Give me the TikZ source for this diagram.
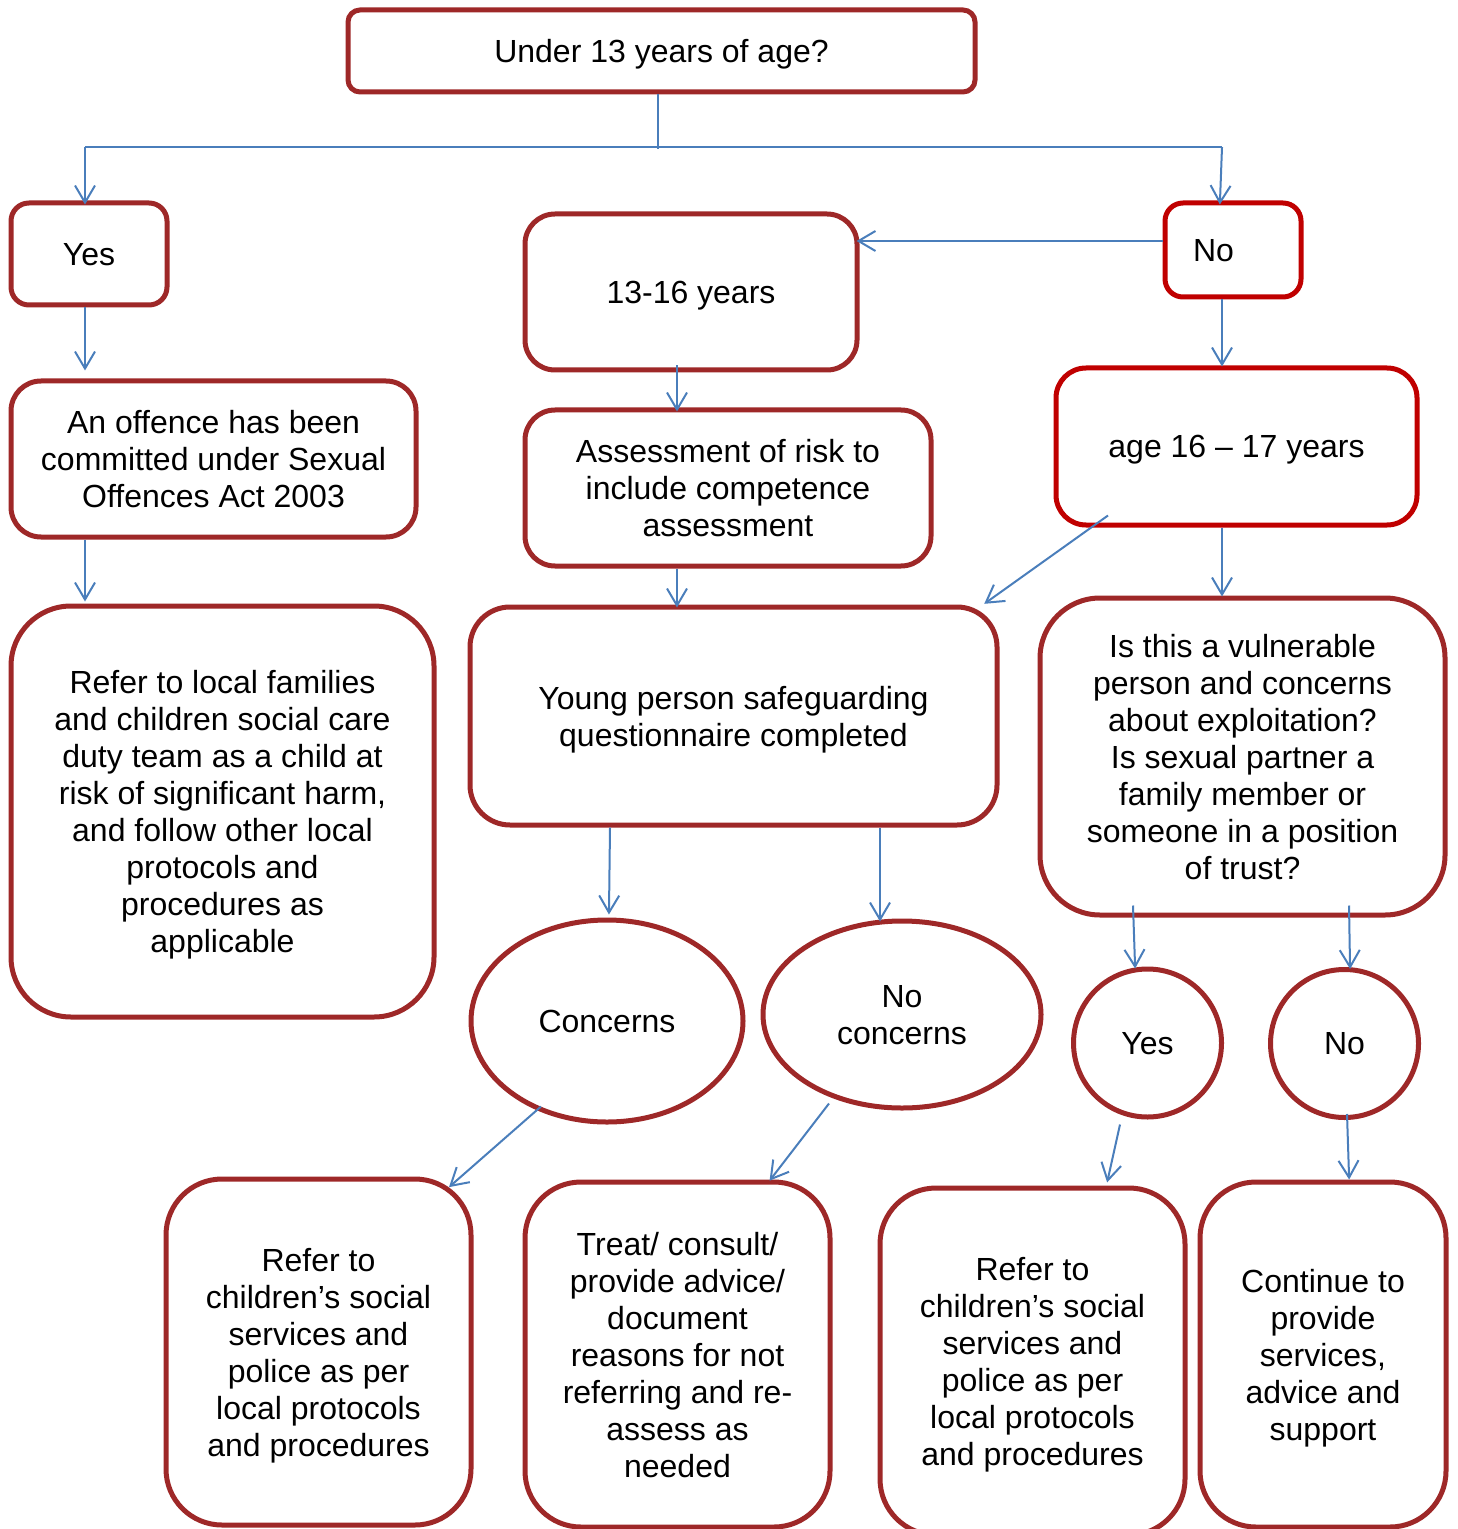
\documentclass[tikz,border=0pt]{standalone}
\usepackage{fontspec}
\setmainfont{Liberation Sans}
\usetikzlibrary{arrows.meta,calc,shapes.geometric}
\definecolor{dred}{RGB}{158,40,40}
\definecolor{bred}{RGB}{192,0,0}
\definecolor{cblue}{RGB}{74,126,187}
\begin{document}
\begin{tikzpicture}[x=0.5pt,y=-0.5pt,
  font=\fontsize{16}{18.5}\selectfont,
  box/.style={draw=dred,line width=2.5pt,rounded corners=#1,align=center,inner sep=2pt,text depth=0pt},
  box/.default=15pt,
  oval/.style={draw=dred,line width=2.5pt,ellipse,align=center,inner sep=1pt,text depth=0pt},
  ring/.style={draw=dred,line width=2.5pt,circle,align=center,inner sep=1pt,text depth=0pt},
  line/.style={draw=cblue,line width=1pt},
  arr/.style={line,shorten >=-2pt,-{Straight Barb[length=8.5pt,width=10pt]}}]
\useasboundingbox (0,0) rectangle (1457,1529);
% nodes
\node[box=6pt,minimum width=313.5pt,minimum height=41pt] (top) at (661.5,51) {Under 13 years of age?};
\node[box=9pt,minimum width=78pt,minimum height=51pt] (yes) at (89,254) {Yes};
\node[box,minimum width=166pt,minimum height=78pt] (t1316) at (691,292) {13-16 years};
\node[box=9pt,draw=bred,minimum width=68pt,minimum height=47pt,text width=40pt,inner xsep=14pt,align=left] (no) at (1233,250) {No};
\node[box,minimum width=202.5pt,minimum height=78pt] (off) at (213.5,459) {An offence has been\\committed under Sexual\\Offences Act 2003};
\node[box,minimum width=203pt,minimum height=78pt] (ass) at (728,488) {Assessment of risk to\\include competence\\assessment};
\node[box,draw=bred,minimum width=180.5pt,minimum height=78.5pt] (age) at (1236.5,446.5) {age 16 -- 17 years};
\node[box=30pt,minimum width=211.5pt,minimum height=205.5pt] (ref1) at (222.5,811.5) {Refer to local families\\and children social care\\duty team as a child at\\risk of significant harm,\\and follow other local\\protocols and\\procedures as\\applicable};
\node[box=20pt,minimum width=263.5pt,minimum height=109pt] (yp) at (733.5,716) {Young person safeguarding\\questionnaire completed};
\node[box=30pt,minimum width=202.5pt,minimum height=158.5pt] (vul) at (1242.5,756.5) {Is this a vulnerable\\person and concerns\\about exploitation?\\Is sexual partner a\\family member or\\someone in a position\\of trust?};
\node[oval,minimum width=136pt,minimum height=101pt] (con) at (607,1021) {Concerns};
\node[oval,minimum width=139pt,minimum height=93.5pt] (nocon) at (902,1014.5) {No\\concerns};
\node[ring,minimum size=74pt] (yc) at (1147.5,1043) {Yes};
\node[ring,minimum size=74pt] (nc) at (1344.5,1043.5) {No};
\node[box=28pt,minimum width=152.5pt,minimum height=173pt] (b1) at (318.5,1352) {Refer to\\children’s social\\services and\\police as per\\local protocols\\and procedures};
\node[box=28pt,minimum width=152.5pt,minimum height=172.5pt] (b2) at (677.5,1354.5) {Treat/ consult/\\provide advice/\\document\\reasons for not\\referring and re-\\assess as\\needed};
\node[box=28pt,minimum width=152.5pt,minimum height=173.5pt] (b3) at (1032.5,1361.5) {Refer to\\children’s social\\services and\\police as per\\local protocols\\and procedures};
\node[box=28pt,minimum width=123pt,minimum height=172.5pt] (b4) at (1323,1354.5) {Continue to\\provide\\services,\\advice and\\support};
% connectors
\coordinate (jl) at (85,147);
\coordinate (jr) at (1222,147);
\draw[line] ($(top.south)+(-3.5,0)$) -- ($(top.south)+(-3.5,55)$);
\draw[line] (jl) -- (jr);
\draw[arr] (jl) -- (yes.north -| jl);
\draw[arr] (jr) -- ($(no.north)+(-13,0)$);
\draw[arr] ($(yes.south)+(-4,0)$) -- ($(off.north)+(-128.5,-12)$);
\draw[arr] ($(no.west)+(0,-9)$) -- ($(t1316.east)+(1,-51)$);
\draw[arr] ($(no.south)+(-11,0)$) -- ($(age.north)+(-14.5,-3)$);
\draw[arr] ($(t1316.south)+(-14,-7)$) -- ($(ass.north)+(-51,0)$);
\draw[arr] ($(off.south)+(-128.5,0)$) -- ($(ref1.north)+(-137.5,-6)$);
\draw[arr] ($(ass.south)+(-51,0)$) -- ($(yp.north)+(-56.5,-1)$);
\draw[arr] ($(age.south)+(-128.5,-12)$) -- ($(yp.north east)+(-12,-3)$);
\draw[arr] ($(age.south)+(-14.5,0)$) -- ($(vul.north)+(-20.5,-3)$);
\draw[arr] ($(yp.south)+(-123.5,0)$) -- ($(con.north)+(2,-7)$);
\draw[arr] ($(yp.south)+(146.5,0)$) -- ($(nocon.north)+(-22,-1)$);
\draw[arr] ($(vul.south)+(-109.5,-12)$) -- ($(yc.north)+(-12.5,-2)$);
\draw[arr] ($(vul.south)+(106.5,-12)$) -- ($(nc.north)+(5.5,-2)$);
\draw[arr] ($(con.south)+(-66,-18)$) -- ($(b1.north)+(133.5,8)$);
\draw[arr] ($(nocon.south)+(-73,-7)$) -- ($(b2.north)+(94.5,-2)$);
\draw[arr] ($(yc.south)+(-27.5,5)$) -- ($(b3.north)+(75.5,-7)$);
\draw[arr] ($(nc.south)+(2.5,-6)$) -- ($(b4.north)+(26,-4)$);
\end{tikzpicture}
\end{document}
